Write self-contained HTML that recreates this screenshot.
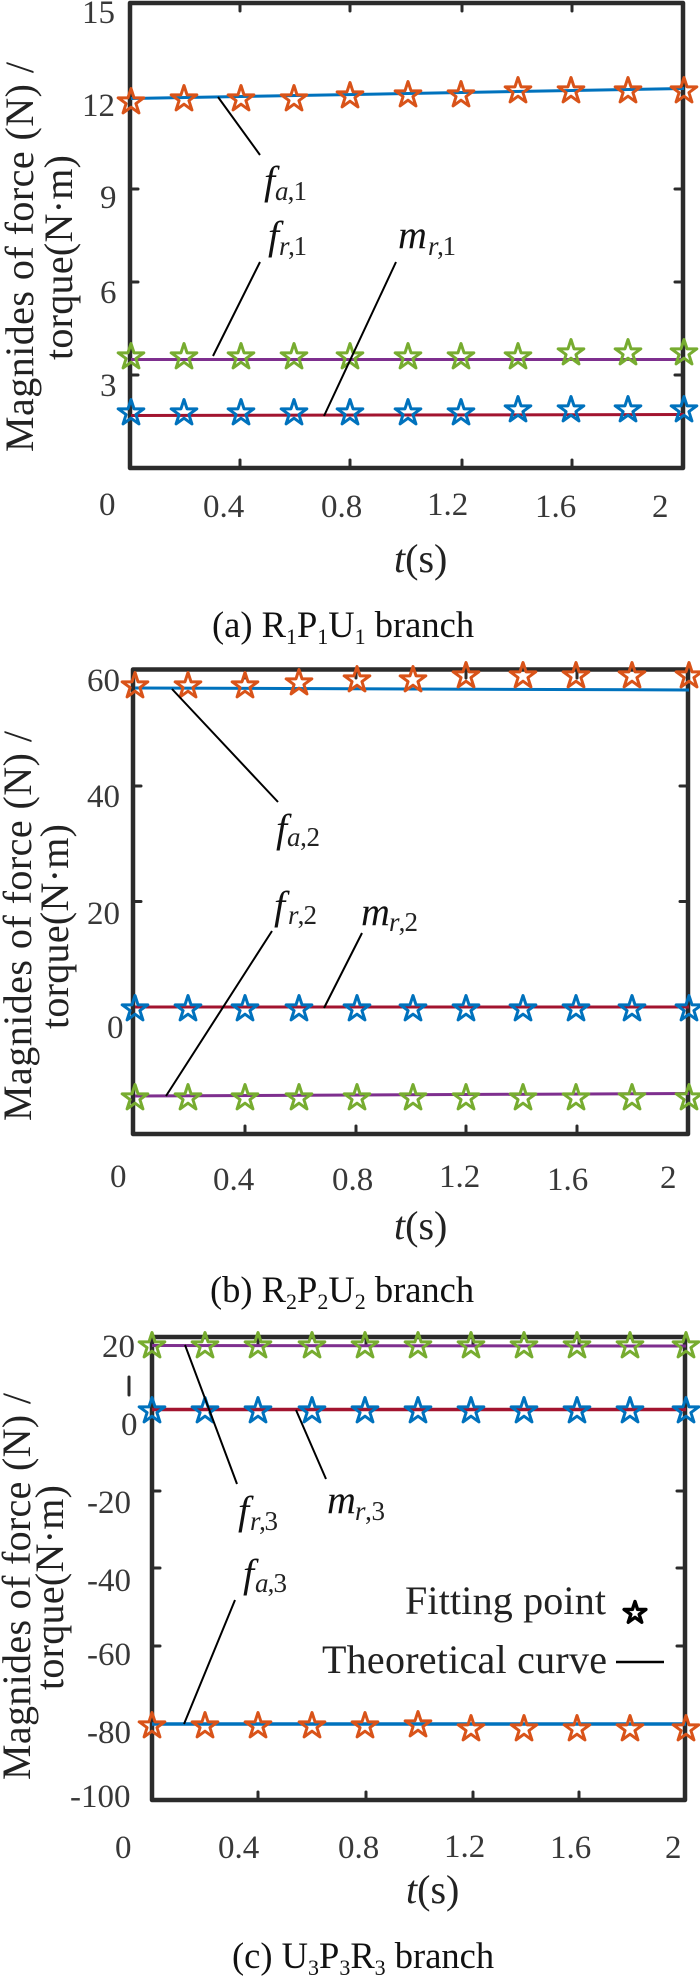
<!DOCTYPE html>
<html lang="en">
<head>
<meta charset="utf-8">
<title>Force and torque plots</title>
<style>
html,body{margin:0;padding:0;background:#fff;width:700px;height:1977px;overflow:hidden}
svg{display:block}
text{font-family:"Liberation Serif",serif}
.n{font-size:33px;fill:#383838}
.l{font-size:40px;fill:#222}
.c{font-size:36.5px;fill:#111}
.v{font-size:40px;fill:#111;font-style:italic}
.b{font-size:27px;fill:#222}
.f{fill:none;stroke:#2b2b2b;stroke-width:4.5;stroke-linejoin:round}
.t{stroke:#2b2b2b;stroke-width:3;stroke-linecap:round;fill:none}
.k{stroke:#000;stroke-width:2;fill:none}
.o{stroke:#d95319}.g{stroke:#77ac30}.s{stroke:#0072bd}
.st{fill:none;stroke-width:3;stroke-linejoin:round}
</style>
</head>
<body>
<svg width="700" height="1977" viewBox="0 0 700 1977" xmlns="http://www.w3.org/2000/svg">
<defs><path id="p" d="M0-13.5 3.03-4.17H12.84L4.91 1.59 7.94 10.92 0 5.16-7.94 10.92-4.91 1.59-12.84-4.17H-3.03Z"/></defs>

<!-- Panel (a) -->
<rect class="f" x="130" y="3" width="553" height="465"/>
<path class="t" d="M240 3V11M350 3V11M462 3V11M572 3V11M240 468V460M350 468V460M462 468V460M572 468V460M130 189H138M130 282H138M130 375H138M683 189H675M683 282H675M683 375H675"/>
<line x1="131" y1="98.5" x2="684" y2="88.5" stroke="#0072bd" stroke-width="3"/>
<line x1="131" y1="359.5" x2="684" y2="359.5" stroke="#7e2f8e" stroke-width="3"/>
<line x1="131" y1="415.5" x2="684" y2="414.5" stroke="#a2142f" stroke-width="3"/>
<g class="st o">
<use href="#p" x="131" y="102"/><use href="#p" x="184" y="99"/><use href="#p" x="241" y="99"/><use href="#p" x="294" y="99"/><use href="#p" x="350" y="96"/><use href="#p" x="408" y="95"/><use href="#p" x="461" y="95"/><use href="#p" x="518" y="91"/><use href="#p" x="571" y="91"/><use href="#p" x="628" y="91"/><use href="#p" x="684" y="91"/>
</g>
<g class="st g">
<use href="#p" x="131" y="357"/><use href="#p" x="184" y="357"/><use href="#p" x="241" y="357"/><use href="#p" x="294" y="357"/><use href="#p" x="350" y="357"/><use href="#p" x="408" y="357"/><use href="#p" x="461" y="357"/><use href="#p" x="518" y="357"/><use href="#p" x="571" y="353"/><use href="#p" x="628" y="353"/><use href="#p" x="684" y="353"/>
</g>
<g class="st s">
<use href="#p" x="131" y="413"/><use href="#p" x="184" y="413"/><use href="#p" x="241" y="413"/><use href="#p" x="294" y="413"/><use href="#p" x="350" y="413"/><use href="#p" x="408" y="413"/><use href="#p" x="461" y="413"/><use href="#p" x="518" y="410"/><use href="#p" x="571" y="410"/><use href="#p" x="628" y="410"/><use href="#p" x="684" y="410"/>
</g>
<path class="k" d="M218 97 260 155M213 356 260 262M324 416 396 262"/>
<text class="n" x="82" y="23">15</text><text class="n" x="82" y="116">12</text><text class="n" x="100" y="208">9</text><text class="n" x="100" y="303">6</text><text class="n" x="100" y="396">3</text>
<text class="n" x="99" y="515">0</text><text class="n" x="203" y="517">0.4</text><text class="n" x="321" y="517">0.8</text><text class="n" x="427" y="515">1.2</text><text class="n" x="535" y="517">1.6</text><text class="n" x="652" y="517">2</text>
<text class="l" transform="translate(33,452) rotate(-90)" textLength="390">Magnides of force (N) /</text>
<text class="l" transform="translate(72,360) rotate(-90)" textLength="205">torque(N·m)</text>
<text class="l" x="394" y="572"><tspan font-style="italic">t</tspan>(s)</text>
<text class="v" x="264" y="194">f</text><text class="b" x="275" y="200" textLength="32"><tspan font-style="italic">a</tspan>,1</text>
<text class="v" x="268" y="249">f</text><text class="b" x="279" y="255" textLength="28"><tspan font-style="italic">r</tspan>,1</text>
<text class="v" x="398" y="248">m</text><text class="b" x="428" y="255" textLength="28"><tspan font-style="italic">r</tspan>,1</text>
<text class="c" x="212" y="637">(a) R<tspan font-size="22" dy="7">1</tspan><tspan dy="-7">P</tspan><tspan font-size="22" dy="7">1</tspan><tspan dy="-7">U</tspan><tspan font-size="22" dy="7">1</tspan><tspan dy="-7"> branch</tspan></text>

<!-- Panel (b) -->
<rect class="f" x="133" y="669.5" width="555" height="464.5"/>
<path class="t" d="M245 670V678M356 670V678M466 670V678M577 670V678M245 1134V1126M356 1134V1126M466 1134V1126M577 1134V1126M133 786H141M133 901.5H141M688 786H680M688 901.5H680"/>
<line x1="135" y1="688" x2="689" y2="690" stroke="#0072bd" stroke-width="3"/>
<line x1="135" y1="1007" x2="689" y2="1007" stroke="#a2142f" stroke-width="3"/>
<line x1="135" y1="1096" x2="689" y2="1093.5" stroke="#7e2f8e" stroke-width="3"/>
<g class="st o">
<use href="#p" x="135" y="686"/><use href="#p" x="188" y="686"/><use href="#p" x="245" y="686"/><use href="#p" x="299" y="683"/><use href="#p" x="357" y="680"/><use href="#p" x="413" y="680"/><use href="#p" x="466" y="676"/><use href="#p" x="523" y="676"/><use href="#p" x="576" y="676"/><use href="#p" x="632" y="676"/><use href="#p" x="689" y="676"/>
</g>
<g class="st s">
<use href="#p" x="135" y="1009"/><use href="#p" x="188" y="1009"/><use href="#p" x="245" y="1009"/><use href="#p" x="299" y="1009"/><use href="#p" x="357" y="1009"/><use href="#p" x="413" y="1009"/><use href="#p" x="466" y="1009"/><use href="#p" x="523" y="1009"/><use href="#p" x="576" y="1009"/><use href="#p" x="632" y="1009"/><use href="#p" x="689" y="1009"/>
</g>
<g class="st g">
<use href="#p" x="135" y="1098"/><use href="#p" x="188" y="1098"/><use href="#p" x="245" y="1098"/><use href="#p" x="299" y="1098"/><use href="#p" x="357" y="1098"/><use href="#p" x="413" y="1098"/><use href="#p" x="466" y="1098"/><use href="#p" x="523" y="1098"/><use href="#p" x="576" y="1098"/><use href="#p" x="632" y="1098"/><use href="#p" x="689" y="1098"/>
</g>
<path class="k" d="M172 689 278 802M166 1096 272 931M324 1008 362 933"/>
<text class="n" x="87" y="691">60</text><text class="n" x="87" y="807">40</text><text class="n" x="87" y="924">20</text><text class="n" x="107" y="1038">0</text>
<text class="n" x="110" y="1187">0</text><text class="n" x="213" y="1190">0.4</text><text class="n" x="332" y="1190">0.8</text><text class="n" x="439" y="1187">1.2</text><text class="n" x="547" y="1190">1.6</text><text class="n" x="660" y="1188">2</text>
<text class="l" transform="translate(31,1121) rotate(-90)" textLength="390">Magnides of force (N) /</text>
<text class="l" transform="translate(68,1029) rotate(-90)" textLength="205">torque(N·m)</text>
<text class="l" x="394" y="1239"><tspan font-style="italic">t</tspan>(s)</text>
<text class="v" x="276" y="842">f</text><text class="b" x="287" y="846" textLength="33"><tspan font-style="italic">a</tspan>,2</text>
<text class="v" x="274" y="919">f</text><text class="b" x="288" y="924" textLength="29"><tspan font-style="italic">r</tspan>,2</text>
<text class="v" x="361" y="925">m</text><text class="b" x="389" y="931" textLength="29"><tspan font-style="italic">r</tspan>,2</text>
<text class="c" x="210" y="1302">(b) R<tspan font-size="22" dy="7">2</tspan><tspan dy="-7">P</tspan><tspan font-size="22" dy="7">2</tspan><tspan dy="-7">U</tspan><tspan font-size="22" dy="7">2</tspan><tspan dy="-7"> branch</tspan></text>

<!-- Panel (c) -->
<rect class="f" x="152" y="1337" width="533" height="463"/>
<path class="t" d="M258 1337V1345M366 1337V1345M473 1337V1345M579 1337V1345M258 1800V1792M366 1800V1792M473 1800V1792M579 1800V1792M152 1491H160M152 1568H160M152 1646H160M685 1491H677M685 1568H677M685 1646H677M129 1377V1395"/>
<line x1="152" y1="1345.5" x2="686" y2="1346" stroke="#7e2f8e" stroke-width="3"/>
<line x1="152" y1="1409.5" x2="686" y2="1409.5" stroke="#a2142f" stroke-width="3.5"/>
<line x1="152" y1="1724" x2="686" y2="1724" stroke="#0072bd" stroke-width="3.5"/>
<g class="st g">
<use href="#p" x="152" y="1346"/><use href="#p" x="205" y="1346"/><use href="#p" x="258" y="1346"/><use href="#p" x="312" y="1346"/><use href="#p" x="365" y="1346"/><use href="#p" x="418" y="1346"/><use href="#p" x="471" y="1346"/><use href="#p" x="524" y="1346"/><use href="#p" x="577" y="1346"/><use href="#p" x="630" y="1346"/><use href="#p" x="686" y="1346"/>
</g>
<g class="st s">
<use href="#p" x="152" y="1411"/><use href="#p" x="205" y="1411"/><use href="#p" x="258" y="1411"/><use href="#p" x="312" y="1411"/><use href="#p" x="365" y="1411"/><use href="#p" x="418" y="1411"/><use href="#p" x="471" y="1411"/><use href="#p" x="524" y="1411"/><use href="#p" x="577" y="1411"/><use href="#p" x="630" y="1411"/><use href="#p" x="686" y="1411"/>
</g>
<g class="st o">
<use href="#p" x="152" y="1726"/><use href="#p" x="205" y="1726"/><use href="#p" x="258" y="1726"/><use href="#p" x="312" y="1726"/><use href="#p" x="365" y="1726"/><use href="#p" x="418" y="1725"/><use href="#p" x="471" y="1729"/><use href="#p" x="524" y="1729"/><use href="#p" x="577" y="1729"/><use href="#p" x="630" y="1729"/><use href="#p" x="686" y="1729"/>
</g>
<path class="k" d="M185 1345 237 1484M296 1410 326 1479M184 1724 235 1600"/>
<text class="n" x="102" y="1357">20</text><text class="n" x="121" y="1435">0</text><text class="n" x="87" y="1513">-20</text><text class="n" x="87" y="1591">-40</text><text class="n" x="87" y="1665">-60</text><text class="n" x="87" y="1743">-80</text><text class="n" x="70" y="1807">-100</text>
<text class="n" x="115" y="1858">0</text><text class="n" x="218" y="1858">0.4</text><text class="n" x="338" y="1858">0.8</text><text class="n" x="444" y="1857">1.2</text><text class="n" x="550" y="1858">1.6</text><text class="n" x="665" y="1858">2</text>
<text class="l" transform="translate(30,1780) rotate(-90)" textLength="387">Magnides of force (N) /</text>
<text class="l" transform="translate(63,1690) rotate(-90)" textLength="205">torque(N·m)</text>
<text class="l" x="406" y="1903"><tspan font-style="italic">t</tspan>(s)</text>
<text class="v" x="238" y="1524">f</text><text class="b" x="250" y="1530" textLength="28"><tspan font-style="italic">r</tspan>,3</text>
<text class="v" x="327" y="1513">m</text><text class="b" x="355" y="1520" textLength="30"><tspan font-style="italic">r</tspan>,3</text>
<text class="v" x="243" y="1587">f</text><text class="b" x="255" y="1592" textLength="32"><tspan font-style="italic">a</tspan>,3</text>
<text class="l" x="405" y="1614" textLength="201">Fitting point</text>
<text class="l" x="322" y="1673" textLength="285">Theoretical curve</text>
<use href="#p" class="st" stroke="#000" transform="translate(635,1613) scale(.85)" style="stroke-width:4"/>
<line x1="616" y1="1662" x2="664" y2="1662" stroke="#000" stroke-width="2.5"/>
<text class="c" x="232" y="1968">(c) U<tspan font-size="22" dy="7">3</tspan><tspan dy="-7">P</tspan><tspan font-size="22" dy="7">3</tspan><tspan dy="-7">R</tspan><tspan font-size="22" dy="7">3</tspan><tspan dy="-7"> branch</tspan></text>
</svg>
</body>
</html>
